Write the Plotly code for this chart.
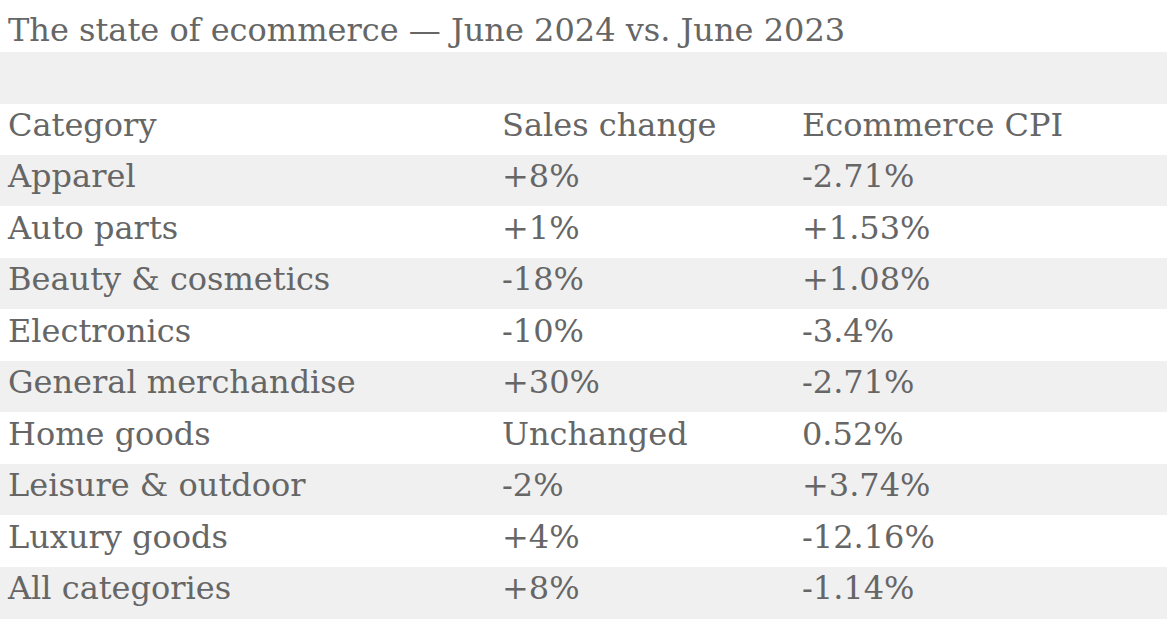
import numpy as np
import plotly.graph_objects as go

title = "The state of ecommerce — June 2024 vs. June 2023"
columns = ["Category", "Sales change", "Ecommerce CPI"]
categories = ["Apparel", "Auto parts", "Beauty & cosmetics", "Electronics",
              "General merchandise", "Home goods", "Leisure & outdoor",
              "Luxury goods", "All categories"]
sales_change = ["+8%", "+1%", "-18%", "-10%", "+30%", "Unchanged", "-2%",
                "+4%", "+8%"]
ecommerce_cpi = ["-2.71%", "+1.53%", "+1.08%", "-3.4%", "-2.71%", "0.52%",
                 "+3.74%", "-12.16%", "-1.14%"]

W, H = 1167, 621
ROW = 51.5
FONT = "DejaVu Serif"
SIZE = 32
TEXT = "#666666"
GREY = "#f0f0f0"
NBSP = "\u00a0"


def split_amp(s):
    # plotly re-measures cells whose value holds "&" (and wraps ones with
    # spaces), which nudges them down; so move "&..." into the suffix and
    # use no-break spaces there
    i = s.find("&")
    if i < 0:
        return s, ""
    return s[:i].replace(" ", NBSP), s[i:].replace(" ", NBSP)


def main():
    cols = [[columns[0]] + categories,
            [columns[1]] + sales_change,
            [columns[2]] + ecommerce_cpi]
    parts = [[split_amp(s) for s in col] for col in cols]
    values = [[p[0] for p in col] for col in parts]
    suffix = np.array([[p[1] for p in col] for col in parts], dtype=str)

    n = len(cols[0])
    fills = ["white" if i % 2 == 0 else GREY for i in range(n)]

    fig = go.Figure(go.Table(
        columnwidth=[494, 300, 373],
        header=dict(values=["", "", ""], fill_color=GREY, height=ROW,
                    line=dict(width=1, color=GREY), align="left",
                    font=dict(family=FONT, size=SIZE, color=TEXT)),
        cells=dict(values=values, suffix=suffix, fill_color=[fills] * 3,
                   height=ROW, line=dict(width=1, color=[fills] * 3),
                   align="left",
                   font=dict(family=FONT, size=SIZE, color=TEXT)),
        domain=dict(x=[0, 1], y=[0, (H - 52) / H]),
    ))
    fig.add_annotation(text=title, x=6 / W, y=1 - 30 / H, xref="paper",
                       yref="paper", xanchor="left", yanchor="middle",
                       showarrow=False,
                       font=dict(family=FONT, size=SIZE, color=TEXT))
    fig.update_layout(width=W, height=H, margin=dict(l=0, r=0, t=0, b=0),
                      paper_bgcolor="white")
    # drop the page's default 8px body margin
    fig.write_html("out.html", config={"displayModeBar": False},
                   post_script="document.body.style.margin='0';")


if __name__ == "__main__":
    main()
